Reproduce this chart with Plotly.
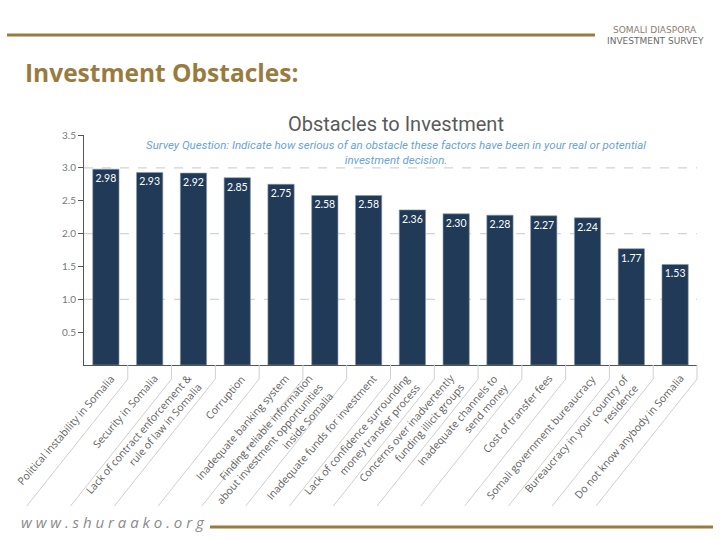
import plotly.graph_objects as go

# ---------------- data ----------------
categories = [
    "Political instability in Somalia",
    "Security in Somalia",
    "Lack of contract enforcement &<br>rule of law in Somalia",
    "Corruption",
    "Inadequate banking system",
    "Finding reliable information<br>about investment opportunities<br>inside Somalia",
    "Inadequate funds for investment",
    "Lack of confidence surrounding<br>money transfer process",
    "Concerns over inadvertently<br>funding illicit groups",
    "Inadequate channels to<br>send money",
    "Cost of transfer fees",
    "Somali government bureaucracy",
    "Bureaucracy in your country of<br>residence",
    "Do not know anybody in Somalia",
]
scores = [2.98, 2.93, 2.92, 2.85, 2.75, 2.58, 2.58, 2.36, 2.30, 2.28, 2.27, 2.24, 1.77, 1.53]
y_ticks = [0.5, 1.0, 1.5, 2.0, 2.5, 3.0, 3.5]
y_tick_labels = ["0.5", "1.0", "1.5", "2.0", "2.5", "3.0", "3.5"]
grid_values = [1.0, 2.0, 3.0]

# ---------------- layout geometry ----------------
W, H = 720, 540
L, R, T, B = 84, 23, 135, 175
PW, PH = W - L - R, H - T - B

def px(x):
    return (x - L) / PW

def py(y):
    return (H - B - y) / PH

GOLD = "#9a7b3e"
NAVY = "#203a58"

fig = go.Figure()
fig.add_trace(go.Bar(
    x=list(range(len(categories))),
    y=scores,
    marker=dict(color=NAVY, line=dict(color="#8797ab", width=0.6)),
    texttemplate="%{y:.2f}",
    textposition="inside",
    insidetextanchor="end",
    textangle=0,
    constraintext="none",
    textfont=dict(family="Lato", size=10.5, color="white"),
    width=0.6,
    hoverinfo="skip",
))

shapes = []
# dashed grid lines (behind bars)
for g in grid_values:
    shapes.append(dict(type="line", xref="paper", yref="y", x0=0, x1=1, y0=g, y1=g,
                       line=dict(color="#d4d4d4", width=1.2, dash="dash"), layer="below"))
# category separators with slanted leader lines (at category boundaries)
n = len(categories)
for i in range(n):
    frac = (i + 1) / n
    shapes.append(dict(type="path", xref="paper", yref="paper",
                       xsizemode="pixel", xanchor=frac,
                       ysizemode="pixel", yanchor=0,
                       path="M0,0 L0,-14 L-101,-141",
                       line=dict(color="#cfcfcf", width=1)))
# header rule
shapes.append(dict(type="line", xref="paper", yref="paper",
                   x0=px(7), x1=px(595), y0=py(35), y1=py(35),
                   line=dict(color=GOLD, width=3)))
# footer rule
shapes.append(dict(type="line", xref="paper", yref="paper",
                   x0=px(210), x1=px(713), y0=py(527), y1=py(527),
                   line=dict(color=GOLD, width=3)))

annotations = [
    dict(text="<b>Investment Obstacles:</b>", x=px(23), y=py(72), xref="paper", yref="paper",
         xanchor="left", yanchor="middle", showarrow=False,
         font=dict(family="Open Sans", size=24.5, color=GOLD)),
    dict(text="SOMALI DIASPORA", x=px(655), y=py(29.5), xref="paper", yref="paper",
         xanchor="center", yanchor="middle", showarrow=False,
         font=dict(family="DejaVu Sans", size=9, color="#8c7e70")),
    dict(text="INVESTMENT SURVEY", x=px(655), y=py(41), xref="paper", yref="paper",
         xanchor="center", yanchor="middle", showarrow=False,
         font=dict(family="DejaVu Sans", size=9, color="#6a6a6a")),
    dict(text="Obstacles to Investment", x=px(396), y=py(124), xref="paper", yref="paper",
         xanchor="center", yanchor="middle", showarrow=False,
         font=dict(family="Roboto", size=20, color="#5a5a5a")),
    dict(text="<i>Survey Question: Indicate how serious of an obstacle these factors have been in your real or potential<br>investment decision.</i>",
         x=px(396), y=py(152), xref="paper", yref="paper",
         xanchor="center", yanchor="middle", showarrow=False, align="center",
         font=dict(family="Roboto", size=11.5, color="#6aa3d4")),
    dict(text="<i>w w w . s h u r a a k o . o r g</i>", x=px(19), y=py(522), xref="paper", yref="paper",
         xanchor="left", yanchor="middle", showarrow=False,
         font=dict(family="Open Sans", size=15, color="#8a8a8a")),
]
# rotated category labels
for i, lab in enumerate(categories):
    annotations.append(dict(
        text=lab, x=i, y=0, xref="x", yref="paper",
        xanchor="right", yanchor="top", align="right",
        xshift=14, yshift=-4, textangle=-49, showarrow=False,
        font=dict(family="Open Sans", size=10.5, color="#5f5f5f"),
    ))

fig.update_layout(
    width=W, height=H,
    margin=dict(l=L, r=R, t=T, b=B, autoexpand=False),
    paper_bgcolor="white", plot_bgcolor="white",
    showlegend=False,
    bargap=0.4,
    shapes=shapes,
    annotations=annotations,
    xaxis=dict(
        range=[-0.5, n - 0.5],
        showticklabels=False,
        ticks="",
        automargin=False,
        showline=True, linecolor="#555555", linewidth=1,
        showgrid=False, zeroline=False,
    ),
    yaxis=dict(
        range=[0, 3.5],
        tickmode="array",
        tickvals=y_ticks,
        ticktext=y_tick_labels,
        ticks="outside", ticklen=5, tickcolor="#555555",
        automargin=False,
        showline=True, linecolor="#555555", linewidth=1,
        showgrid=False, zeroline=False,
        tickfont=dict(family="Lato", size=10, color="#777777"),
    ),
)

fig.write_html("out.html", config={"displayModeBar": False},
               post_script="document.body.style.margin='0';")
